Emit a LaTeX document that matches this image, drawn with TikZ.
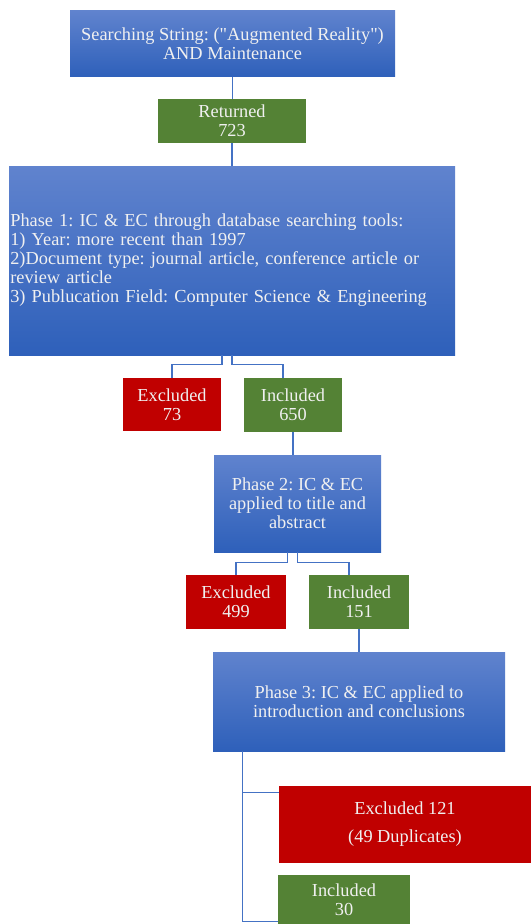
\documentclass[tikz,border=0pt]{standalone}
\usepackage{fontspec}
\setmainfont{Liberation Serif}
\frenchspacing
\definecolor{phaseTop}{RGB}{96,131,206}
\definecolor{phaseBot}{RGB}{46,96,186}
\definecolor{inclGreen}{RGB}{84,130,53}
\definecolor{exclRed}{RGB}{192,0,0}
\definecolor{linkBlue}{RGB}{68,114,196}
\begin{document}
\begin{tikzpicture}[x=0.75pt,y=-0.75pt,
  box/.style={text=white!94!black,inner sep=1pt,align=center,
    font=\fontsize{13.75}{14.25}\selectfont},
  phase/.style={box,top color=phaseTop,bottom color=phaseBot},
  incl/.style={box,fill=inclGreen},
  excl/.style={box,fill=exclRed},
  link/.style={draw=linkBlue,line width=0.9pt}]
  \useasboundingbox (0,0) rectangle (531,924);
  \node[phase,minimum width=243.75pt,minimum height=49.5pt] (search) at (232.5,44)
    {Searching String: (\textquotedbl Augmented Reality\textquotedbl)\\AND Maintenance};
  \node[incl,minimum width=111pt,minimum height=33pt] (returned) at (232,121) {Returned\\723};
  \node[phase,minimum width=334.5pt,minimum height=141.75pt,text width=332.5pt,align=left] (phase1) at (232,260.5)
    {Phase 1: IC \& EC through database searching tools:\\1) Year: more recent than 1997\\2)Document type: journal article, conference article or\\review article\\3) Publucation Field: Computer Science \& Engineering};
  \node[excl,minimum width=73.5pt,minimum height=39.75pt] (excl1) at (172,404.5) {Excluded\\73};
  \node[incl,minimum width=73.5pt,minimum height=40.5pt] (incl1) at (293,405) {Included\\650};
  \node[phase,minimum width=125.25pt,minimum height=72.75pt] (phase2) at (297.5,503.5)
    {Phase 2: IC \& EC\\applied to title and\\abstract};
  \node[excl,minimum width=75pt,minimum height=40.5pt] (excl2) at (236,602) {Excluded\\499};
  \node[incl,minimum width=75pt,minimum height=40.5pt] (incl2) at (359,602) {Included\\151};
  \node[phase,minimum width=219pt,minimum height=74.25pt] (phase3) at (359,701.5)
    {Phase 3: IC \& EC applied to\\introduction and conclusions};
  \node[excl,minimum width=189pt,minimum height=57.75pt] (excl3) at (405,824.5) {Excluded 121\\[6.75pt](49 Duplicates)};
  \node[incl,minimum width=99pt,minimum height=36.75pt] (incl3) at (344,899.5) {Included\\30};
  \draw[link] (search.south) -- (search.south |- returned.north);
  \draw[link] (returned.south) -- (phase1.north);
  \draw[link] ([xshift=-7.5pt]phase1.south) -- ++(0,9) -| (excl1.north);
  \draw[link] (phase1.south) -- ++(0,9) -| ([xshift=-7.5pt]incl1.north);
  \draw[link] (incl1.south) -- (incl1.south |- phase2.north);
  \draw[link] ([xshift=-7.5pt]phase2.south) -- ++(0,10) -| (excl2.north);
  \draw[link] (phase2.south) -- ++(0,10) -| ([xshift=-7.5pt]incl2.north);
  \draw[link] (incl2.south) -- (phase3.north);
  \draw[link] ([xshift=22.5pt]phase3.south west) |- ([yshift=-5.25pt]excl3.north west);
  \draw[link] ([xshift=22.5pt]phase3.south west) |- ([yshift=2.25pt]incl3.south west);
\end{tikzpicture}
\end{document}
